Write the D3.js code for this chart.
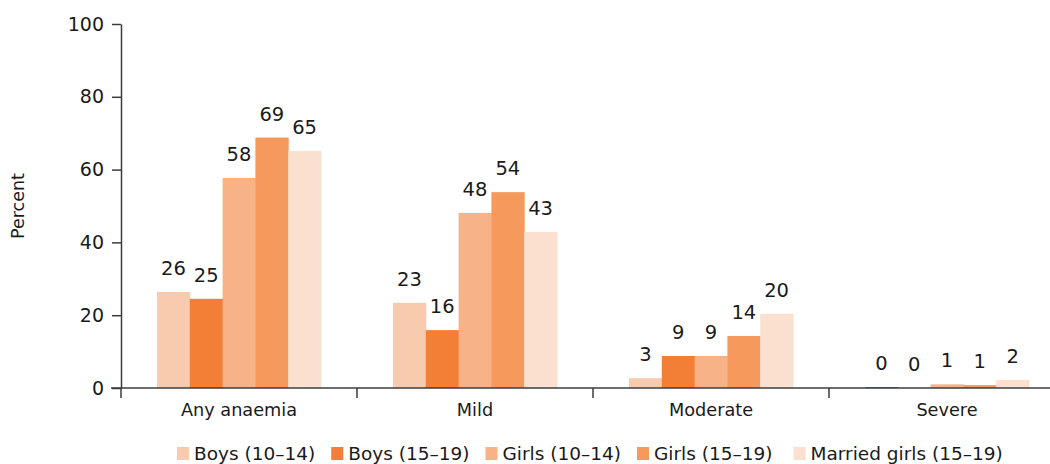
<!DOCTYPE html>
<html>
<head>
<meta charset="UTF-8">
<title>Anaemia</title>
<script src="https://cdn.jsdelivr.net/npm/d3@7"></script>
<style>
  body { margin: 0; background: #fff; }
  text { font-family: "DejaVu Sans", sans-serif; fill: #1a1a1a; }
</style>
</head>
<body>
<div id="chart"></div>
<script>
// data
var categories = ["Any anaemia", "Mild", "Moderate", "Severe"];
var seriesNames = ["Boys (10\u201314)", "Boys (15\u201319)", "Girls (10\u201314)", "Girls (15\u201319)", "Married girls (15\u201319)"];
var boys1014 = [26.4, 23.4, 2.7, 0.25];
var boys1519 = [24.5, 15.9, 8.8, 0];
var girls1014 = [57.7, 48.1, 8.8, 1.0];
var girls1519 = [68.8, 53.8, 14.3, 0.8];
var married1519 = [65.1, 42.9, 20.4, 2.2];
var labels = [
  [26, 23, 3, 0],
  [25, 16, 9, 0],
  [58, 48, 9, 1],
  [69, 54, 14, 1],
  [65, 43, 20, 2]
];
var yTicks = [0, 20, 40, 60, 80, 100];

var colors = ["#f9cbae", "#f37f36", "#f7b287", "#f59a5c", "#fbdfcf"];
var values = [boys1014, boys1519, girls1014, girls1519, married1519];

var W = 1050, H = 464;
var svg = d3.select("#chart").append("svg").attr("width", W).attr("height", H);

var x0 = d3.scaleBand().domain(categories).range([121, 1065]).padding(0);
var x1 = d3.scaleBand().domain(d3.range(seriesNames.length)).range([36, x0.bandwidth() - 36]).padding(0);
var y = d3.scaleLinear().domain([0, 100]).range([388, 24]);

// y axis
var yAxis = svg.append("g").attr("transform", "translate(121,0)")
  .call(d3.axisLeft(y).tickValues(yTicks).tickSize(9).tickSizeOuter(0).tickPadding(8));
yAxis.selectAll("path, line").attr("stroke", "#3c3c3c").attr("stroke-width", 1.5);
yAxis.selectAll("text").style("font-size", "19px").style("font-family", "DejaVu Sans").attr("fill", "#1a1a1a");

svg.append("text")
  .attr("transform", "translate(24,206) rotate(-90)")
  .attr("text-anchor", "middle")
  .style("font-size", "17.5px")
  .text("Percent");

// bars
var groups = svg.selectAll("g.cat").data(categories).enter().append("g")
  .attr("class", "cat")
  .attr("transform", function(d) { return "translate(" + x0(d) + ",0)"; });

values.forEach(function(vals, s) {
  groups.append("rect")
    .attr("x", x1(s))
    .attr("width", x1.bandwidth() + 0.5)
    .attr("y", function(d, i) { return y(vals[i]); })
    .attr("height", function(d, i) { return y(0) - y(vals[i]); })
    .attr("fill", function(d, i) { return (s == 0 && i == 3) ? "#3b5b9a" : colors[s]; });
  groups.append("text")
    .attr("x", x1(s) + x1.bandwidth() / 2)
    .attr("y", function(d, i) { return y(vals[i]) - 17; })
    .attr("text-anchor", "middle")
    .style("font-size", "19.5px")
    .text(function(d, i) { return labels[s][i]; });
});

// x axis
svg.append("line").attr("x1", 111).attr("x2", W).attr("y1", y(0)).attr("y2", y(0))
  .attr("stroke", "#3c3c3c").attr("stroke-width", 1.5);
categories.forEach(function(c) {
  svg.append("line").attr("x1", x0(c)).attr("x2", x0(c)).attr("y1", y(0)).attr("y2", y(0) + 10)
    .attr("stroke", "#3c3c3c").attr("stroke-width", 1.5);
  svg.append("text")
    .attr("x", x0(c) + x0.bandwidth() / 2)
    .attr("y", 416)
    .attr("text-anchor", "middle")
    .style("font-size", "17.7px")
    .text(c);
});

// legend
var lx = 177;
seriesNames.forEach(function(n, s) {
  if (s == 4) lx += 5;
  svg.append("rect").attr("x", lx).attr("y", 447).attr("width", 12).attr("height", 13).attr("fill", colors[s]);
  var t = svg.append("text").attr("x", lx + 17).attr("y", 460).style("font-size", "18.5px").text(n);
  lx += 17 + t.node().getComputedTextLength() + 16;
});
</script>
</body>
</html>
